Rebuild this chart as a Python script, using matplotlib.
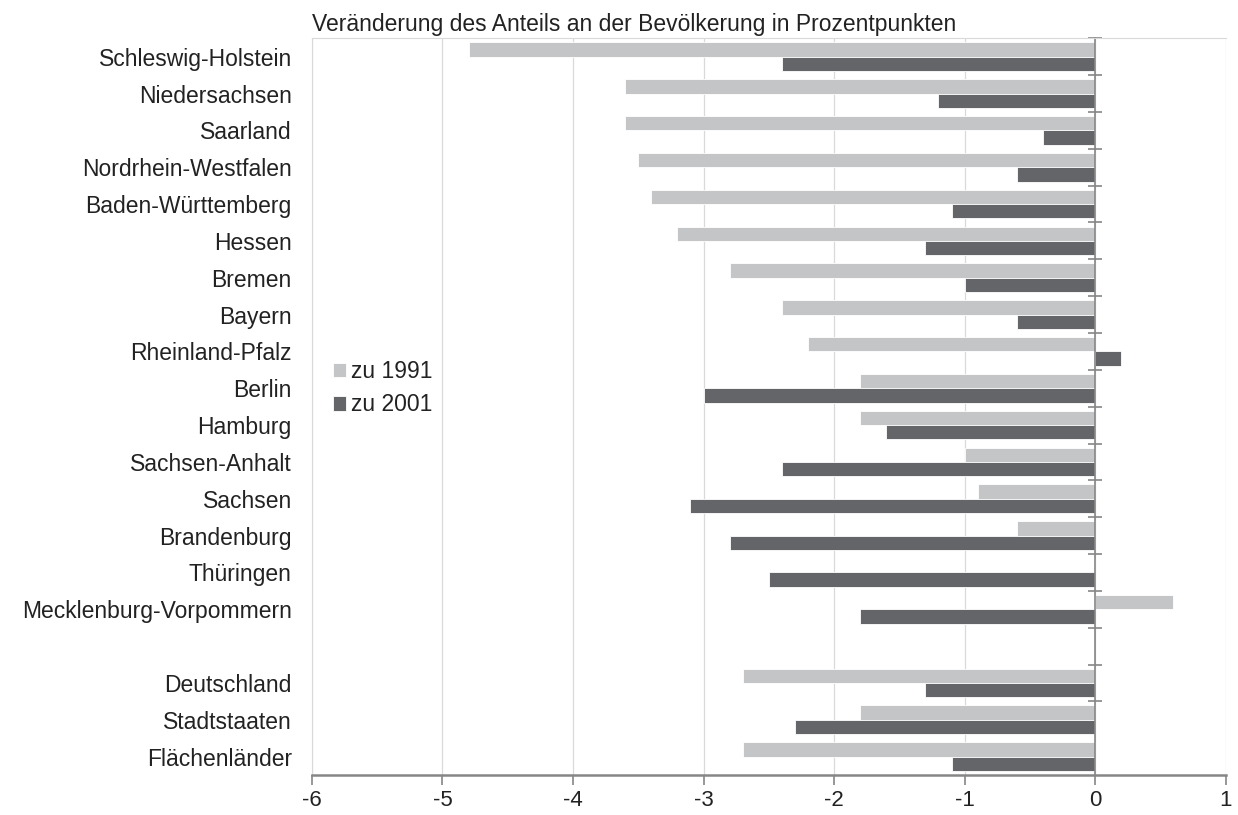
import matplotlib.pyplot as plt
import numpy as np

plt.rcParams['font.family'] = ['Liberation Sans', 'DejaVu Sans']

laender = ['Schleswig-Holstein', 'Niedersachsen', 'Saarland', 'Nordrhein-Westfalen',
           'Baden-Württemberg', 'Hessen', 'Bremen', 'Bayern', 'Rheinland-Pfalz',
           'Berlin', 'Hamburg', 'Sachsen-Anhalt', 'Sachsen', 'Brandenburg',
           'Thüringen', 'Mecklenburg-Vorpommern', '',
           'Deutschland', 'Stadtstaaten', 'Flächenländer']
zu_1991 = [-4.8, -3.6, -3.6, -3.5, -3.4, -3.2, -2.8, -2.4, -2.2, -1.8, -1.8,
           -1.0, -0.9, -0.6, 0.0, 0.6, np.nan, -2.7, -1.8, -2.7]
zu_2001 = [-2.4, -1.2, -0.4, -0.6, -1.1, -1.3, -1.0, -0.6, 0.2, -3.0, -1.6,
           -2.4, -3.1, -2.8, -2.5, -1.8, np.nan, -1.3, -2.3, -1.1]
x_ticks = [-6, -5, -4, -3, -2, -1, 0, 1]

hell = '#c4c5c7'
dunkel = '#646569'
text_col = '#222222'

fig = plt.figure(figsize=(12.38, 8.15), dpi=100)
ax = fig.add_axes([0.252, 0.049, 0.738, 0.904])

y = np.arange(len(laender))
h = 0.39
ax.barh(y - h / 2, zu_1991, height=h, color=hell, edgecolor='white', linewidth=0.6, label='zu 1991', zorder=2)
ax.barh(y + h / 2, zu_2001, height=h, color=dunkel, edgecolor='white', linewidth=0.6, label='zu 2001', zorder=2)

ax.set_xlim(-6, 1)
ax.set_ylim(len(laender) - 0.5, -0.5)
ax.set_xticks(x_ticks)
ax.set_xticklabels([str(t) for t in x_ticks])
ax.grid(axis='x', color='#d9d9d9', linewidth=0.9, zorder=0)
ax.set_axisbelow(True)

# Rahmen
for s in ['top', 'left']:
    ax.spines[s].set_color('#d9d9d9')
ax.spines['bottom'].set_color('#868686')
ax.spines['bottom'].set_linewidth(1.8)
ax.spines['right'].set_position(('data', 0))
ax.spines['right'].set_color('#868686')
ax.spines['right'].set_linewidth(1.2)

ax.set_yticks(y)
ax.set_yticklabels(laender)
ax.set_yticks(np.arange(len(laender) - 1) - 0.5, minor=True)
ax.tick_params(axis='y', which='major', left=False, right=False, labelleft=True,
               labelright=False, labelsize=16.5, labelcolor=text_col, pad=11)
ax.tick_params(axis='y', which='minor', left=False, right=True, direction='inout',
               length=10, color='#868686', width=1.2)
ax.tick_params(axis='x', which='major', direction='out', length=7, color='#868686',
               width=1.2, labelsize=16, labelcolor=text_col, pad=4)

ax.set_title('Veränderung des Anteils an der Bevölkerung in Prozentpunkten',
             loc='left', fontsize=16.5, color=text_col, pad=5)

ax.legend(loc='center left', bbox_to_anchor=(0.0, 0.525), frameon=False,
          fontsize=16.5, handlelength=0.6, handleheight=0.6, handletextpad=0.2,
          labelspacing=0.45, labelcolor=text_col)

fig.savefig('out.png', dpi=100)
